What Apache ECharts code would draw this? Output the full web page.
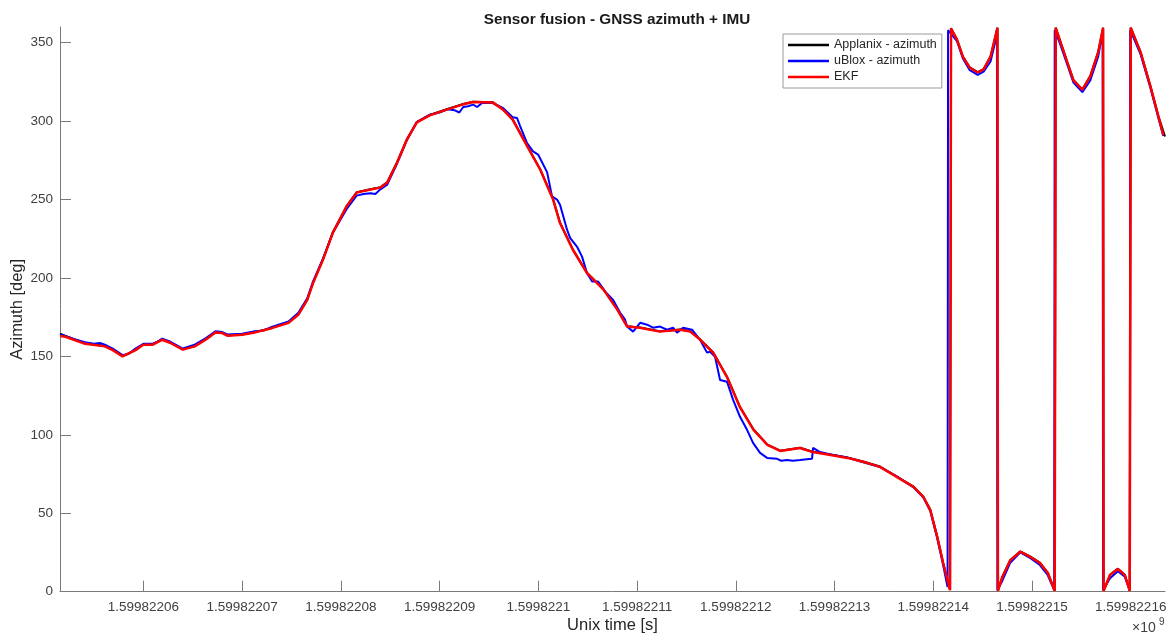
<!DOCTYPE html>
<html>
<head>
<meta charset="utf-8">
<script src="https://cdn.jsdelivr.net/npm/echarts@6/dist/echarts.min.js"></script>
<style>
html,body{margin:0;padding:0;background:#fff;}
#chart{width:1170px;height:635px;}
</style>
</head>
<body>
<div id="chart"></div>
<script>
// time base (s); x values below are seconds after T0
const T0 = 1599822000;
const xTicks = [60, 70, 80, 90, 100, 110, 120, 130, 140, 150, 160];
const yTicks = [0, 50, 100, 150, 200, 250, 300, 350];
const seriesNames = ['Applanix - azimuth', 'uBlox - azimuth', 'EKF'];

const applanix = [[51.56,164.5],[52.1,163],[54.1,158.5],[56.1,156.6],[56.9,154.3],[57.9,150.2],[59.2,154],[60.0,157.6],[60.9,157.6],[61.9,160.8],[62.7,158.9],[64.0,154.5],[65.2,156.6],[66.3,160.8],[67.3,165.5],[68.0,165],[68.5,163.4],[70.0,164],[71.3,165.5],[73.0,168.2],[74.7,171.6],[75.7,176.8],[76.6,186.2],[77.2,197.2],[78.2,212],[79.2,229.2],[80.6,246],[81.6,254.6],[83.0,256.6],[84.0,257.8],[84.7,261],[85.7,273.8],[86.7,288.5],[87.7,299.4],[89.0,303.9],[90.8,307.7],[92.4,310.9],[93.4,312.4],[95.4,312],[96.4,307.7],[97.4,301.2],[98.9,284],[100.2,269.2],[101.5,250.2],[102.2,235.2],[103.5,218.2],[104.9,203.6],[106.6,192.8],[108.0,180],[109.0,169.2],[110.3,168.5],[112.3,166],[114.4,167.2],[115.4,166],[116.4,160.8],[117.7,152.6],[119.1,137.2],[120.4,118.1],[121.8,103.4],[123.2,93.8],[124.5,89.9],[126.5,91.8],[127.8,89.2],[129.6,87.4],[131.3,85.5],[132.9,83],[134.6,79.8],[136.3,73.4],[138.0,67],[139.0,60.6],[139.7,52.2],[140.4,35.2],[141.0,18.5],[141.7,1.2],[141.8,359.2],[142.4,352.2],[143.0,341.2],[143.7,334.2],[144.5,331.2],[145.1,333.2],[145.8,341.2],[146.3,354.2],[146.5,359.6],[146.55,0.6],[147.0,9.6],[147.8,20.2],[148.8,25.7],[149.8,22.5],[150.8,18.5],[151.6,12.1],[152.3,0.6],[152.4,359.6],[152.8,352.2],[153.6,337.2],[154.2,326.2],[155.1,320.2],[155.9,328.7],[156.7,344],[157.2,359.6],[157.25,0.6],[157.9,10.8],[158.7,14.7],[159.4,10.8],[159.9,0.6],[160.0,359.6],[161.0,344],[162.0,322.2],[162.8,303.2],[163.47,290.2]];

const ublox = [[51.6,164],[52.1,163],[53.0,161],[54.1,159],[55.0,158],[55.6,158.5],[56.1,157.5],[56.9,155],[57.9,150.8],[58.5,151.5],[59.2,155],[60.0,158],[60.9,158],[61.5,159.5],[61.9,161.3],[62.7,159.5],[64.0,155],[65.2,157.5],[66.3,161.5],[67.3,166],[68.0,165.5],[68.5,164],[70.0,164.5],[71.3,166],[72.2,166.5],[73.0,168.8],[74.7,172.3],[75.7,177.8],[76.6,187],[77.2,198],[78.2,212.5],[79.2,229],[80.6,244],[81.6,252.5],[82.3,253.5],[83.0,254],[83.5,253.5],[84.0,256.5],[84.7,259.5],[85.7,273],[86.7,288],[87.7,299.5],[89.0,304],[90.0,305.5],[90.8,307.5],[91.5,307],[92.0,305.5],[92.4,309],[92.9,309.5],[93.4,310.5],[93.8,309],[94.3,311.5],[95.4,311.5],[96.4,308.5],[97.4,302.5],[97.85,302],[98.15,297],[98.86,286],[99.47,280.7],[99.98,278.7],[100.89,267.5],[101.39,252],[101.9,250],[102.2,246.7],[102.5,240],[102.91,230.8],[103.22,225.6],[103.93,219.9],[104.43,213.6],[104.94,203],[105.45,197.7],[106.06,197.7],[106.77,191.3],[107.58,186],[108.29,177.8],[108.79,173.4],[108.99,169],[109.6,165.8],[110.31,171.4],[111.02,170.2],[111.62,168.3],[112.33,169],[113.04,167],[113.65,168.3],[114.05,165.1],[114.66,168.3],[115.57,167],[116.38,160.6],[117.09,152.4],[117.4,153],[117.9,149.8],[118.41,135],[119.12,133.8],[119.73,122.3],[120.43,111.5],[121.14,103.2],[121.75,94.9],[122.46,88.5],[123.17,85.3],[124.18,84.7],[124.6,83.5],[125.19,84],[125.8,83.5],[126.51,84],[127.2,84.5],[127.72,84.7],[127.83,91.7],[128.53,89],[129.6,87.5],[131.3,85.5],[132.9,82.5],[134.6,79.5],[136.3,73.5],[138.0,66.5],[139.0,60],[139.7,51.5],[140.4,34],[141.0,17],[141.45,3],[141.5,358],[142.4,351],[143.0,340],[143.7,332.5],[144.5,329.5],[145.1,331.5],[145.8,338],[146.3,351],[146.45,358],[146.5,1],[147.0,7],[147.8,18.5],[148.8,25],[149.8,21.5],[150.8,17],[151.6,10.5],[152.25,1],[152.3,358],[152.8,350],[153.6,335.5],[154.2,324.5],[155.1,318.5],[155.9,326],[156.7,341],[157.15,357],[157.2,1],[157.9,8.5],[158.7,13],[159.4,9.5],[159.9,1],[159.95,358],[161.0,342.5],[162.0,321],[162.8,302],[163.3,290.5]];

const ekf = [[51.6,163],[52.1,162.5],[54.1,158],[56.1,156.4],[56.9,154],[57.9,150],[59.2,154],[60.0,157.4],[60.9,157.4],[61.9,160.6],[62.7,158.7],[64.0,154.3],[65.2,156.4],[66.3,160.6],[67.3,165.3],[68.0,164.9],[68.5,163.2],[70.0,163.8],[71.3,165.3],[73.0,168],[74.7,171.4],[75.7,176.6],[76.6,186],[77.2,197],[78.2,211.7],[79.2,228.9],[80.6,245.7],[81.6,254.4],[83.0,256.4],[84.0,257.6],[84.7,260.8],[85.7,273.6],[86.7,288.3],[87.7,299.2],[89.0,303.7],[90.8,307.5],[92.4,310.7],[93.4,312.2],[95.4,311.8],[96.4,307.5],[97.4,301],[98.9,283.8],[100.2,269],[101.5,250],[102.2,235],[103.5,218],[104.9,203.4],[106.6,192.6],[108.0,179.8],[109.0,169],[110.3,168.3],[112.3,165.8],[114.4,167],[115.4,165.8],[116.4,160.6],[117.7,152.4],[119.1,137],[120.4,117.9],[121.8,103.2],[123.2,93.6],[124.5,89.7],[126.5,91.6],[127.8,89],[129.6,87.2],[131.3,85.3],[132.9,82.8],[134.6,79.6],[136.3,73.2],[138.0,66.8],[139.0,60.4],[139.7,52],[140.4,35],[141.0,18.3],[141.7,1],[141.8,359],[142.4,352],[143.0,341],[143.7,334],[144.5,331],[145.1,333],[145.8,341],[146.3,354],[146.5,359.5],[146.55,0.5],[147.0,9.4],[147.8,20],[148.8,25.5],[149.8,22.3],[150.8,18.3],[151.6,11.9],[152.3,0.5],[152.4,359.5],[152.8,352],[153.6,337],[154.2,326],[155.1,320],[155.9,328.5],[156.7,343.8],[157.2,359.5],[157.25,0.5],[157.9,10.6],[158.7,14.5],[159.4,10.6],[159.9,0.5],[160.0,359.5],[161.0,343.8],[162.0,322],[162.8,303],[163.3,291]];

const FONT = '"Liberation Sans", Arial, Helvetica, sans-serif';
const chart = echarts.init(document.getElementById('chart'), null, {renderer: 'canvas'});

function fmtX(v) {
  return parseFloat(((T0 + v) / 1e9).toFixed(8)).toString();
}

const axisCommon = {
  axisLine: {show: true, lineStyle: {color: '#7a7a7a', width: 1}},
  axisTick: {show: true, inside: true, length: 11, lineStyle: {color: '#7a7a7a', width: 1}},
  splitLine: {show: false},
  nameMoveOverlap: false,
  nameTextStyle: {fontFamily: FONT, fontSize: 16.5, color: '#262626'}
};

chart.setOption({
  animation: false,
  backgroundColor: '#ffffff',
  textStyle: {fontFamily: FONT},
  title: {
    text: 'Sensor fusion - GNSS azimuth + IMU',
    left: 612, top: 7, textAlign: 'center',
    textStyle: {fontFamily: FONT, fontSize: 15.3, fontWeight: 'bold', color: '#1a1a1a'}
  },
  grid: {left: 60, right: 5, top: 27, bottom: 43.3, containLabel: false, outerBoundsMode: 'none'},
  legend: {
    data: seriesNames,
    orient: 'vertical',
    left: 783, top: 34,
    padding: [4, 5, 4, 5],
    itemGap: 2,
    itemWidth: 41, itemHeight: 2.5,
    icon: 'rect',
    backgroundColor: '#ffffff',
    borderColor: '#9a9a9a', borderWidth: 1,
    textStyle: {fontFamily: FONT, fontSize: 12.5, color: '#262626', lineHeight: 14}
  },
  xAxis: Object.assign({}, axisCommon, {
    type: 'value',
    min: 51.56, max: 163.47,
    name: 'Unix time [s]', nameLocation: 'middle', nameGap: 25,
    axisTick: Object.assign({}, axisCommon.axisTick, {customValues: xTicks}),
    axisLabel: {customValues: xTicks, formatter: fmtX, margin: 9, fontFamily: FONT, fontSize: 13.5, color: '#404040'}
  }),
  yAxis: Object.assign({}, axisCommon, {
    type: 'value',
    min: 0, max: 360,
    name: 'Azimuth [deg]', nameLocation: 'middle', nameGap: 34, nameRotate: 90,
    axisTick: Object.assign({}, axisCommon.axisTick, {customValues: yTicks}),
    axisLabel: {customValues: yTicks, margin: 7, fontFamily: FONT, fontSize: 13.5, color: '#404040'}
  }),
  graphic: [
    {type: 'text', left: 1132, top: 621, style: {text: '×10', font: '14px ' + FONT, fill: '#404040'}},
    {type: 'text', left: 1159, top: 617, style: {text: '9', font: '10px ' + FONT, fill: '#404040'}}
  ],
  series: [
    {name: seriesNames[0], type: 'line', data: applanix, showSymbol: false, symbol: 'none',
     lineStyle: {color: '#000000', width: 2}, itemStyle: {color: '#000000'}, z: 2},
    {name: seriesNames[1], type: 'line', data: ublox, showSymbol: false, symbol: 'none',
     lineStyle: {color: '#0000ff', width: 2}, itemStyle: {color: '#0000ff'}, z: 3},
    {name: seriesNames[2], type: 'line', data: ekf, showSymbol: false, symbol: 'none',
     lineStyle: {color: '#ff0000', width: 2.5}, itemStyle: {color: '#ff0000'}, z: 4}
  ]
});
</script>
</body>
</html>
